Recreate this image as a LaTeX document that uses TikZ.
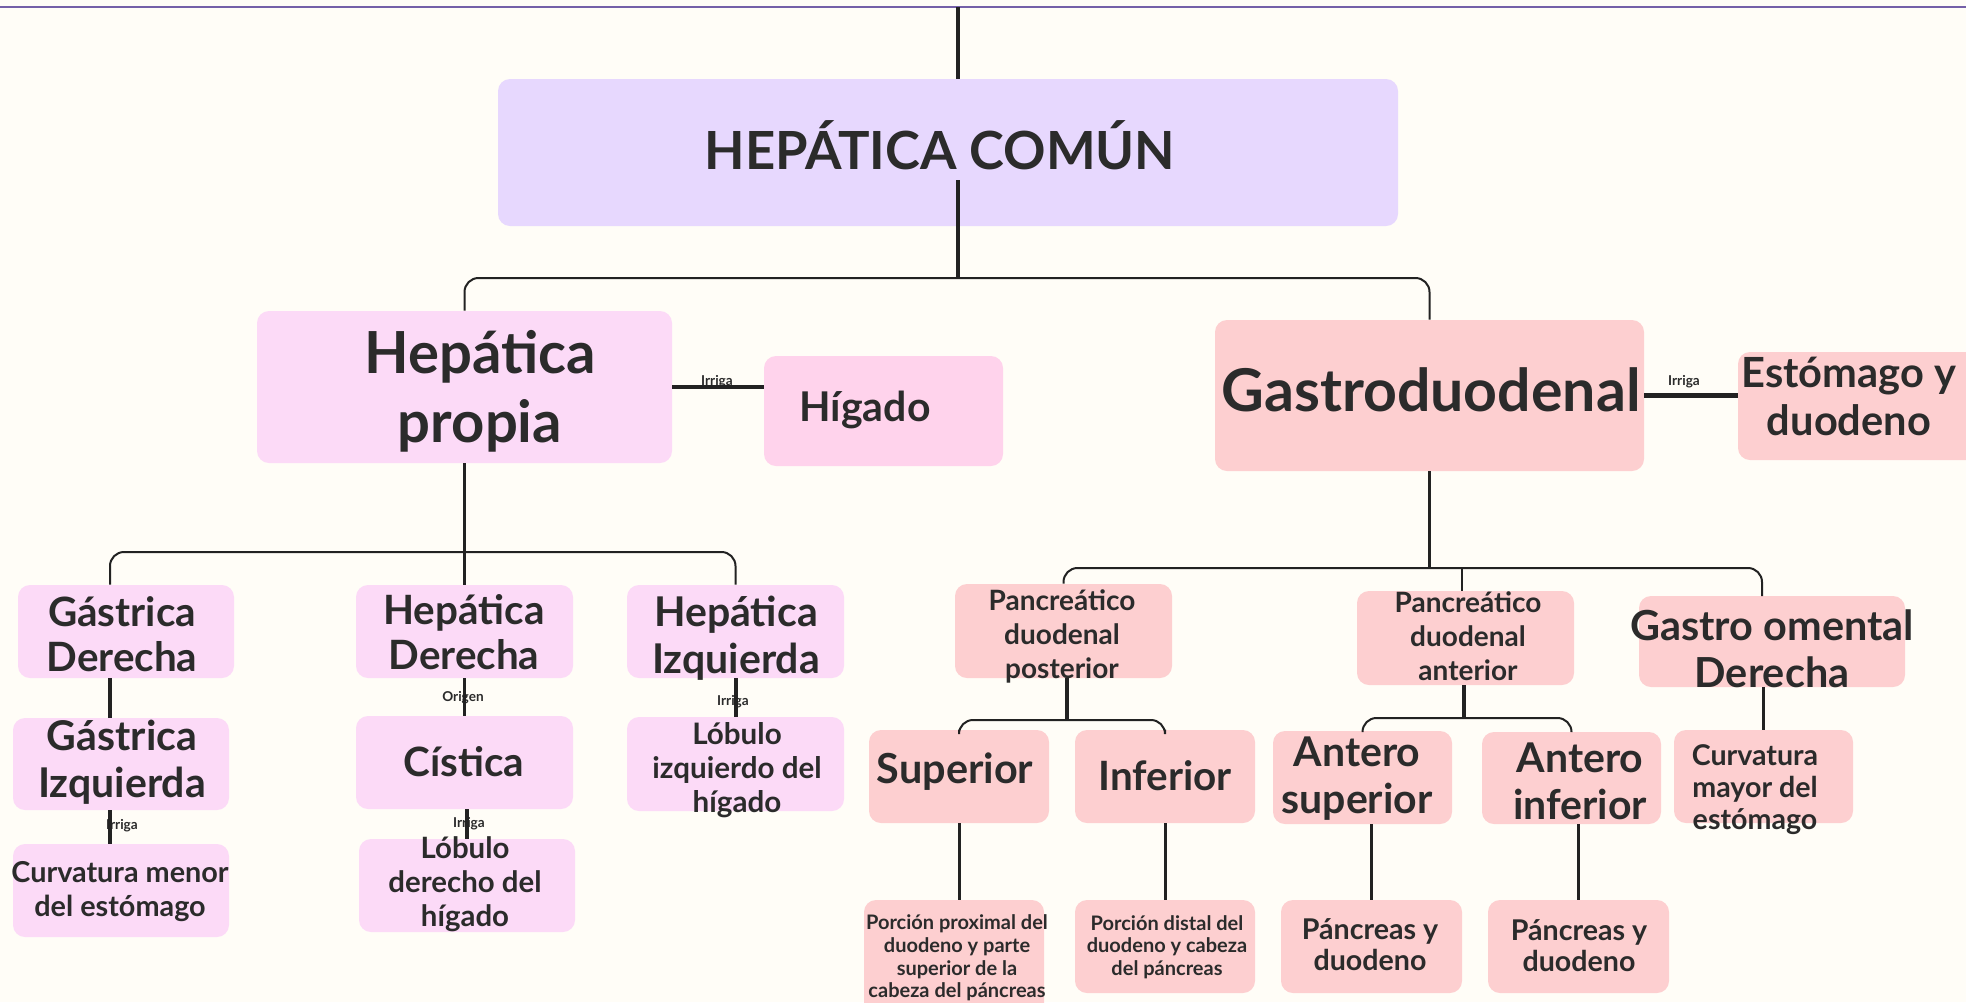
\documentclass[tikz,border=0pt]{standalone}
\usepackage{fontspec}
\setmainfont{Lato}
\usetikzlibrary{fit}
\definecolor{bg}{HTML}{FFFDF7}
\definecolor{lav}{HTML}{E7D8FE}
\definecolor{pinkL}{HTML}{FCDAF7}
\definecolor{pinkH}{HTML}{FFD3EC}
\definecolor{salmon}{HTML}{FDCFD0}
\definecolor{ink}{HTML}{2B2B2B}
\definecolor{ln}{HTML}{222222}
\definecolor{topline}{HTML}{7460A8}
\newcommand\myfs[2]{\fontsize{#1}{#2}\selectfont}
\begin{document}
\begin{tikzpicture}[x=0.5pt,y=-0.5pt,
  box/.style={draw=none, rounded corners=6pt, inner sep=0pt},
  txt/.style={text=ink, align=center, inner sep=0pt},
  main/.style={draw=ln, line width=1.7pt},
  heavy/.style={draw=ln, line width=2.2pt},
  thin/.style={draw=ln, line width=1.5pt},
  brk/.style={draw=ln, line width=1pt, rounded corners=7pt},
  lbl/.style={text=ink, font=\bfseries\myfs{6.8}{7}, inner sep=0pt}]
\useasboundingbox (0,0) rectangle (1966,1002);
\fill[bg] (0,0) rectangle (1966,1002);
\draw[topline, line width=1.2pt] (0,7) -- (1966,7);

% boxes
\node[box, fill=lav, fit={(498,79) (1398,226)}] (root) {};
\node[box, fill=pinkL, fit={(257,311) (672,463)}] (hp) {};
\node[box, fill=pinkH, fit={(764,356) (1003,466)}] (hig) {};
\node[box, fill=salmon, fit={(1215,320) (1644,471)}] (gd) {};
\node[box, fill=salmon, fit={(1738,352) (1995,460)}] (est) {};
\node[box, fill=pinkL, fit={(18,585) (234,678)}] (gdr) {};
\node[box, fill=pinkL, fit={(356,585) (573,678)}] (hd) {};
\node[box, fill=pinkL, fit={(627,585) (844,678)}] (hiz) {};
\node[box, fill=pinkL, fit={(13,718) (229,810)}] (giz) {};
\node[box, fill=pinkL, fit={(356,716) (573,809)}] (cis) {};
\node[box, fill=pinkL, fit={(627,717) (844,811)}] (liz) {};
\node[box, fill=pinkL, fit={(13,844) (229,937)}] (cmen) {};
\node[box, fill=pinkL, fit={(359,839) (575,932)}] (lder) {};
\node[box, fill=salmon, fit={(955,584) (1172,678)}] (pdp) {};
\node[box, fill=salmon, fit={(1357,591) (1574,685)}] (pda) {};
\node[box, fill=salmon, fit={(1639,596) (1905,687)}] (god) {};
\node[box, fill=salmon, fit={(869,730) (1049,823)}] (sup) {};
\node[box, fill=salmon, fit={(1075,730) (1255,823)}] (inf) {};
\node[box, fill=salmon, fit={(1273,731) (1452,824)}] (asup) {};
\node[box, fill=salmon, fit={(1482,732) (1661,824)}] (ainf) {};
\node[box, fill=salmon, fit={(1674,730) (1853,823)}] (cmay) {};
\node[box, fill=salmon, fit={(864,900) (1044,1015)}] (ppro) {};
\node[box, fill=salmon, fit={(1075,900) (1255,993)}] (pdis) {};
\node[box, fill=salmon, fit={(1281,900) (1462,993)}] (pyd1) {};
\node[box, fill=salmon, fit={(1488,900) (1669,993)}] (pyd2) {};

% texts
\node[txt, font=\bfseries\myfs{26.3}{30}] (roott) at (940,145) {HEPÁTICA COMÚN};
\node[txt, font=\bfseries\myfs{29}{34.5}] (hpt) at (480,391) {Hepática\\propia};
\node[txt, font=\bfseries\myfs{20.5}{23}] (higt) at (865,410) {Hígado};
\node[txt, font=\bfseries\myfs{29.5}{32}] (gdt) at (1431,390) {Gastroduodenal};
\node[txt, font=\bfseries\myfs{20.8}{24}] (estt) at (1849,396) {Estómago y\\duodeno};
\node[txt, font=\bfseries\myfs{20.2}{22.5}] (gdrt) at (122,634) {Gástrica\\Derecha};
\node[txt, font=\bfseries\myfs{20.2}{22.5}] (hdt) at (464,632) {Hepática\\Derecha};
\node[txt, font=\bfseries\myfs{20.5}{23.5}] (hizt) at (736,638) {Hepática\\Izquierda};
\node[txt, font=\bfseries\myfs{20.5}{23.5}] (gizt) at (122,762) {Gástrica\\Izquierda};
\node[txt, font=\bfseries\myfs{20.2}{22}] (cist) at (464,762) {Cística};
\node[txt, font=\bfseries\myfs{14.8}{17}] (lizt) at (737,770) {Lóbulo\\izquierdo del\\hígado};
\node[txt, font=\bfseries\myfs{14.4}{17}] (cment) at (120,892) {Curvatura menor\\del estómago};
\node[txt, font=\bfseries\myfs{14.7}{17}] (ldert) at (465,884) {Lóbulo\\derecho del\\hígado};
\node[txt, font=\bfseries\myfs{14}{17}] (pdpt) at (1062,636) {Pancreático\\duodenal\\posterior};
\node[txt, font=\bfseries\myfs{14}{17}] (pdat) at (1468,636) {Pancreático\\duodenal\\anterior};
\node[txt, font=\bfseries\myfs{20.7}{23.5}] (godt) at (1772,649) {Gastro omental\\Derecha};
\node[txt, font=\bfseries\myfs{20.7}{22}] (supt) at (955,772) {Superior};
\node[txt, font=\bfseries\myfs{20.2}{22}] (inft) at (1165,776) {Inferior};
\node[txt, font=\bfseries\myfs{20.5}{23.5}] (asupt) at (1357,779) {Antero\\superior};
\node[txt, font=\bfseries\myfs{20.5}{23.5}] (ainft) at (1580,781) {Antero\\inferior};
\node[txt, font=\bfseries\myfs{14.3}{16}] (cmayt) at (1755,790) {Curvatura\\mayor del\\estómago};
\node[txt, font=\bfseries\myfs{10}{11.3}] (pprot) at (957,958) {Porción proximal del\\duodeno y parte\\superior de la\\cabeza del páncreas};
\node[txt, font=\bfseries\myfs{10}{11.3}] (pdist) at (1167,947) {Porción distal del\\duodeno y cabeza\\del páncreas};
\node[txt, font=\bfseries\myfs{14.3}{15.5}] (pyd1t) at (1370,945) {Páncreas y\\duodeno};
\node[txt, font=\bfseries\myfs{14.3}{15.5}] (pyd2t) at (1579,946) {Páncreas y\\duodeno};

% small labels
\node[lbl] (l1) at (717,382) {Irriga};
\node[lbl] (l2) at (1684,382) {Irriga};
\node[lbl] (l3) at (463,698) {Origen};
\node[lbl] (l4) at (733,702) {Irriga};
\node[lbl] (l5) at (122,826) {Irriga};
\node[lbl] (l6) at (469,824) {Irriga};

% junction coordinates
\coordinate (top) at (958,7);
\coordinate (rootc) at (958,180);
\coordinate (j1) at (958,278);
\coordinate (j2) at (464.5,552);
\coordinate (gx) at (110,585);
\coordinate (j3) at (1431,568);
\coordinate (godtop) at (1762,596);
\coordinate (pdax) at (1462,596);
\coordinate (j4) at (1067,720);
\coordinate (j5) at (1464,718);
\coordinate (lizx) at (736,700);

% connectors
\draw[main] (top) -- (root.north -| top);
\draw[main] (rootc) -- (j1);
\draw[brk] (hp.north) |- (j1) -| (gd.north);
\draw[heavy] (hp.east) -- (hp.east -| hig.west);
\draw[heavy] (gd.east) -- (gd.east -| est.west);

\draw[main] (hp.south) -- (hd.north);
\draw[brk] (gdr.north -| gx) |- (j2) -| (hiz.north);
\draw[main] (gdr.south -| gx) -- (giz.north -| gx);
\draw[main] (giz.south -| gx) -- (cmen.north -| gx);
\draw[main] (hd.south) -- (cis.north);
\draw[main] (cis.south -| lder.north) -- (lder.north);
\draw[main] (hiz.south -| lizx) -- (liz.north -| lizx);

\draw[main] (gd.south) -- (gd.south |- j3);
\draw[brk] (pdp.north) |- (j3) -| (godtop);
\draw[brk] (pdax |- j3) -- (pda.north -| pdax);
\draw[main] (pdp.south -| j4) -- (j4);
\draw[brk] (sup.north) |- (j4) -| (inf.north);
\draw[main] (pda.south -| j5) -- (j5);
\draw[brk] (asup.north) |- (j5) -| (ainf.north);
\draw[thin] (cmay.north |- god.south) -- (cmay.north);

\draw[thin] (sup.south) -- (sup.south |- ppro.north);
\draw[thin] (inf.south) -- (inf.south |- pdis.north);
\draw[thin] (asup.south -| pyd1.north) -- (pyd1.north);
\draw[thin] (ainf.south -| pyd2.north) -- (pyd2.north);
\end{tikzpicture}
\end{document}
